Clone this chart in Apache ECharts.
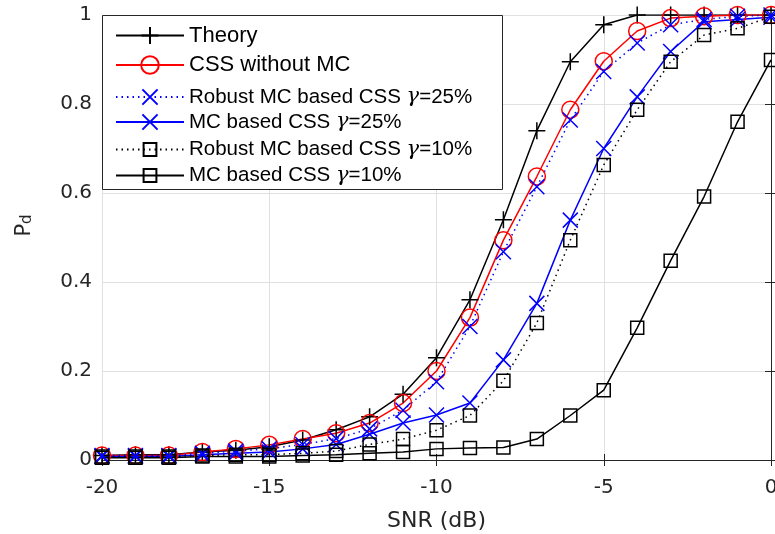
<!DOCTYPE html>
<html>
<head>
<meta charset="utf-8">
<script src="https://cdn.jsdelivr.net/npm/echarts@6/dist/echarts.min.js"></script>
<style>
  html, body { margin: 0; padding: 0; background: #fff; }
  #chart { width: 775px; height: 534px; }
</style>
</head>
<body>
<div id="chart"></div>
<script>
// SNR sweep in dB
const snr = [-20, -19, -18, -17, -16, -15, -14, -13, -12, -11, -10, -9, -8, -7, -6, -5, -4, -3, -2, -1, 0];

// Detection probability for each scheme
const theory      = [0.010, 0.012, 0.012, 0.018, 0.022, 0.030, 0.045, 0.068, 0.097, 0.148, 0.230, 0.360, 0.540, 0.740, 0.895, 0.978, 1.000, 1.000, 1.000, 1.000, 1.000];
const cssNoMc     = [0.010, 0.010, 0.010, 0.018, 0.025, 0.034, 0.047, 0.060, 0.083, 0.128, 0.200, 0.320, 0.494, 0.637, 0.787, 0.896, 0.964, 0.993, 0.997, 1.000, 1.000];
const robust25    = [0.010, 0.010, 0.010, 0.015, 0.020, 0.025, 0.035, 0.048, 0.070, 0.112, 0.176, 0.300, 0.468, 0.614, 0.764, 0.873, 0.937, 0.978, 0.990, 0.997, 1.000];
const mc25        = [0.008, 0.008, 0.008, 0.012, 0.015, 0.018, 0.025, 0.035, 0.058, 0.083, 0.101, 0.128, 0.225, 0.352, 0.539, 0.700, 0.816, 0.918, 0.985, 0.990, 0.995];
const robust10    = [0.008, 0.008, 0.008, 0.010, 0.012, 0.012, 0.015, 0.020, 0.035, 0.047, 0.067, 0.100, 0.178, 0.308, 0.494, 0.663, 0.787, 0.895, 0.955, 0.970, 0.996];
const mc10        = [0.005, 0.005, 0.005, 0.008, 0.008, 0.008, 0.010, 0.012, 0.015, 0.018, 0.025, 0.027, 0.028, 0.047, 0.100, 0.157, 0.297, 0.448, 0.592, 0.760, 0.899];

// Series names as shown in the legend
const names = [
  'Theory',
  'CSS without MC',
  'Robust MC based CSS γ=25%',
  'MC based CSS γ=25%',
  'Robust MC based CSS γ=10%',
  'MC based CSS γ=10%'
];

const xTicks = { min: -20, max: 0, step: 5 };
const yTicks = { min: 0, max: 1, step: 0.2 };

const PLUS = 'path://M0,8L16,8M8,0L8,16';
const CROSS = 'path://M0,0L16,16M16,0L0,16';
const AXIS_COLOR = '#262626';
const FONT = 'Liberation Sans, Arial, sans-serif';
const TICK_FONT = 'DejaVu Sans, sans-serif';

function makeSeries(name, values, color, symbol, size, dotted) {
  return {
    name: name,
    type: 'line',
    data: snr.map((s, i) => [s, values[i]]),
    symbol: symbol,
    symbolSize: size,
    showAllSymbol: true,
    silent: true,
    lineStyle: { color: color, width: 1.5, type: dotted ? [1.5, 4] : 'solid' },
    itemStyle: { color: 'rgba(0,0,0,0)', borderColor: color, borderWidth: 1.5 },
    emphasis: { disabled: true }
  };
}

const series = [
  makeSeries(names[0], theory,   '#000000', PLUS,     17, false),
  makeSeries(names[1], cssNoMc,  '#ff0000', 'circle', 17, false),
  makeSeries(names[2], robust25, '#0000ff', CROSS,    15, true),
  makeSeries(names[3], mc25,     '#0000ff', CROSS,    15, false),
  makeSeries(names[4], robust10, '#000000', 'rect',   13, true),
  makeSeries(names[5], mc10,     '#000000', 'rect',   13, false)
];

// Legend rows: vertical centre and icon height of each entry
const legendRowY = [35, 65, 96, 121, 147, 173];
const legendIconH = [21, 22, 19, 19, 16, 16];

function legendLabel(name) {
  if (name.indexOf('γ') < 0) {
    return '{big|' + name + '}';
  }
  const parts = name.split('γ');
  return '{sm|' + parts[0] + '}{g|γ}{sm|' + parts[1] + '}';
}

const legendRich = {
  big: { fontSize: 22, fontFamily: FONT, color: '#000' },
  sm: { fontSize: 20.5, fontFamily: FONT, color: '#000' },
  g: { fontSize: 21, fontStyle: 'italic', fontFamily: 'DejaVu Serif, serif', color: '#000' }
};

const legends = names.map((name, i) => ({
  orient: 'vertical',
  left: 115,
  top: legendRowY[i] - legendIconH[i] / 2,
  padding: 0,
  itemGap: 0,
  itemWidth: 68,
  itemHeight: legendIconH[i],
  selectedMode: false,
  data: [name],
  formatter: legendLabel,
  textStyle: { color: '#000', rich: legendRich }
}));

const chart = echarts.init(document.getElementById('chart'), null, { renderer: 'canvas' });

chart.setOption({
  animation: false,
  backgroundColor: '#ffffff',
  textStyle: { fontFamily: FONT },
  grid: { left: 102, right: 4, top: 15, bottom: 74, containLabel: false, outerBoundsMode: 'none' },
  legend: legends,
  graphic: {
    elements: [{
      // legend frame
      type: 'rect',
      z: 3,
      silent: true,
      shape: { x: 102.5, y: 15.5, width: 400, height: 174 },
      style: { fill: '#ffffff', stroke: AXIS_COLOR, lineWidth: 1 }
    }]
  },
  xAxis: [
    {
      type: 'value',
      min: xTicks.min, max: xTicks.max, interval: xTicks.step,
      position: 'bottom',
      name: 'SNR (dB)',
      nameLocation: 'middle',
      nameGap: 50,
      nameTextStyle: { fontSize: 22, color: AXIS_COLOR, fontFamily: TICK_FONT },
      axisLine: { show: true, lineStyle: { color: AXIS_COLOR, width: 1 } },
      axisTick: { show: true, inside: true, length: 6, lineStyle: { color: AXIS_COLOR } },
      axisLabel: { fontSize: 20, color: AXIS_COLOR, margin: 18, fontFamily: TICK_FONT, showMaxLabel: true, showMinLabel: true },
      splitLine: { show: true, lineStyle: { color: '#e0e0e0', width: 1 } }
    },
    {
      type: 'value',
      min: xTicks.min, max: xTicks.max, interval: xTicks.step,
      position: 'top',
      axisLine: { show: true, lineStyle: { color: AXIS_COLOR, width: 1 } },
      axisTick: { show: true, inside: true, length: 6, lineStyle: { color: AXIS_COLOR } },
      axisLabel: { show: false },
      splitLine: { show: false }
    }
  ],
  yAxis: [
    {
      type: 'value',
      min: yTicks.min, max: yTicks.max, interval: yTicks.step,
      position: 'left',
      name: '{s|}{p|P}{d|d}',
      nameLocation: 'middle',
      nameRotate: 90,
      nameGap: 67,
      nameTextStyle: {
        rich: {
          p: { fontSize: 21, color: AXIS_COLOR, fontFamily: TICK_FONT, verticalAlign: 'bottom', lineHeight: 28 },
          d: { fontSize: 15, color: AXIS_COLOR, fontFamily: TICK_FONT, verticalAlign: 'bottom', lineHeight: 18 },
          s: { width: 24, lineHeight: 28 }
        }
      },
      axisLine: { show: true, lineStyle: { color: AXIS_COLOR, width: 1 } },
      axisTick: { show: true, inside: true, length: 6, lineStyle: { color: AXIS_COLOR } },
      axisLabel: { fontSize: 20, color: AXIS_COLOR, margin: 10, fontFamily: TICK_FONT },
      splitLine: { show: true, lineStyle: { color: '#e0e0e0', width: 1 } }
    },
    {
      type: 'value',
      min: yTicks.min, max: yTicks.max, interval: yTicks.step,
      position: 'right',
      axisLine: { show: true, lineStyle: { color: AXIS_COLOR, width: 1 } },
      axisTick: { show: true, inside: true, length: 6, lineStyle: { color: AXIS_COLOR } },
      axisLabel: { show: false },
      splitLine: { show: false }
    }
  ],
  series: series
});
</script>
</body>
</html>
